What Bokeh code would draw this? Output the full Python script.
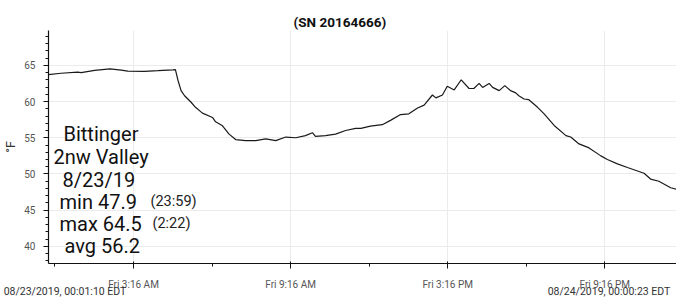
from bokeh.plotting import figure
from bokeh.models import Range1d, FixedTicker, Label, ColumnDataSource, LinearAxis
from bokeh.embed import file_html
from bokeh.resources import INLINE

# ---- data ----
title_text = "(SN 20164666)"
start_stamp = "08/23/2019, 00:01:10 EDT"
end_stamp = "08/24/2019, 00:00:23 EDT"
start_min = 1 + 10 / 60          # 00:01:10
end_min = 24 * 60 + 23 / 60      # 00:00:23 next day

times_min = [1, 30, 68, 76, 107, 142, 168, 183, 221, 252, 286, 292, 298, 305, 313, 328,
             338, 354, 377, 384, 399, 415, 430, 453, 476, 499, 522, 545, 568, 590, 606,
             613, 636, 659, 682, 705, 717, 739, 766, 785, 808, 827, 847, 862, 881, 889,
             904, 915, 931, 947, 965, 976, 988, 996, 1011, 1019, 1034, 1047, 1060,
             1072, 1079, 1091, 1102, 1122, 1137, 1160, 1187, 1198, 1217, 1240, 1267,
             1282, 1305, 1328, 1366, 1381, 1400, 1427, 1440]
temps_f = [63.7, 63.9, 64.05, 64.0, 64.3, 64.5, 64.33, 64.2, 64.15, 64.25, 64.37, 64.4,
           62.9, 61.5, 60.8, 59.9, 59.2, 58.4, 57.8, 57.2, 56.7, 55.5, 54.75, 54.6, 54.6,
           54.85, 54.6, 55.1, 55.0, 55.3, 55.7, 55.2, 55.3, 55.5, 56.0, 56.3, 56.3, 56.6,
           56.8, 57.4, 58.2, 58.3, 59.1, 59.5, 60.9, 60.5, 60.9, 62.1, 61.6, 63.0, 61.8,
           61.8, 62.5, 61.95, 62.5, 61.95, 61.5, 62.2, 61.5, 61.2, 60.8, 60.35, 60.25,
           59.2, 58.3, 56.7, 55.3, 55.1, 54.15, 53.6, 52.5, 52.0, 51.4, 50.9, 50.1,
           49.3, 49.0, 48.1, 47.9]

major_tick_hours = [3 + 16 / 60, 9 + 16 / 60, 15 + 16 / 60, 21 + 16 / 60]
minor_tick_hours = [0 + 16 / 60, 6 + 16 / 60, 12 + 16 / 60, 18 + 16 / 60]
tick_labels = ["Fri 3:16 AM", "Fri 9:16 AM", "Fri 3:16 PM", "Fri 9:16 PM"]
y_major = [40, 45, 50, 55, 60, 65]
y_minor = list(range(38, 70))

station_lines = ["Bittinger", "2nw Valley", "8/23/19", "min 47.9", "max 64.5", "avg 56.2"]
time_notes = ["(23:59)", "(2:22)"]

# ---- figure ----
W, H = 676, 301
FL, FB = 48, 263  # frame left / bottom in canvas px
x0, x1 = start_min / 60, end_min / 60
p = figure(width=W, height=H, output_backend="svg", toolbar_location=None,
           x_range=Range1d(x0, x1), y_range=Range1d(37.65, 69.8),
           min_border_left=FL, min_border_right=0, min_border_top=30,
           min_border_bottom=H - FB, background_fill_color="white",
           border_fill_color="white", outline_line_color=None)

p.title.text = title_text
p.title.align = "left"
p.title.offset = 293 - FL
p.title.text_font = "Roboto"
p.title.text_font_size = "13.5px"
p.title.text_font_style = "bold"
p.title.text_color = "#111111"
p.title.standoff = 2

src = ColumnDataSource(dict(x=[t / 60 for t in times_min], y=temps_f))
p.line("x", "y", source=src, line_color="#1a1a1a", line_width=1.2)

p.xaxis.ticker = FixedTicker(ticks=major_tick_hours, minor_ticks=minor_tick_hours + major_tick_hours)
p.xaxis.major_label_overrides = {t: l for t, l in zip(major_tick_hours, tick_labels)}
p.yaxis.ticker = FixedTicker(ticks=y_major, minor_ticks=y_minor)
p.yaxis.axis_label = "°F"

for ax in (p.xaxis[0], p.yaxis[0]):
    ax.axis_line_color = "#111111"
    ax.axis_line_width = 1.2
    ax.major_tick_line_color = "#111111"
    ax.minor_tick_line_color = "#111111"
    ax.major_label_text_font = "Roboto"
    ax.major_label_text_font_size = "10px"
    ax.major_label_text_color = "#555555"
    ax.major_tick_in = 0
    ax.minor_tick_in = 0

p.xaxis.major_tick_out = 5
p.xaxis.major_tick_in = 2
p.xaxis.minor_tick_out = 3
p.xaxis.major_label_standoff = 10
p.yaxis.major_tick_out = 5
p.yaxis.minor_tick_out = 3
p.yaxis.major_label_standoff = 8
p.yaxis.axis_label_text_font = "Roboto"
p.yaxis.axis_label_text_font_style = "normal"
p.yaxis.axis_label_text_font_size = "12.5px"
p.yaxis.axis_label_text_color = "#333333"
p.yaxis.axis_label_standoff = 3

# second bottom axis carrying the start / end time stamps
px_per_h = (W - FL) / (x1 - x0)
stamp_pos = [x0 + (64.5 - FL) / px_per_h, x0 + (608.5 - FL) / px_per_h]
stamp_axis = LinearAxis(ticker=FixedTicker(ticks=stamp_pos, minor_ticks=[]),
                        major_label_overrides={stamp_pos[0]: start_stamp, stamp_pos[1]: end_stamp},
                        axis_line_color=None, major_tick_line_color=None,
                        minor_tick_line_color=None, major_tick_out=0, major_tick_in=0,
                        major_label_standoff=-8, major_label_text_font="Roboto",
                        major_label_text_font_size="10.5px", major_label_text_color="#333333")
p.add_layout(stamp_axis, "below")

p.xgrid.ticker = FixedTicker(ticks=major_tick_hours)
p.ygrid.ticker = FixedTicker(ticks=y_major)
p.grid.grid_line_color = "#ebebeb"
p.grid.grid_line_width = 1


def lab(text, cx, cy, size, color="#111111"):
    p.add_layout(Label(x=cx - FL, y=FB - cy, x_units="screen", y_units="screen",
                       text=text, text_font="Roboto", text_font_size=size,
                       text_color=color, text_align="left", text_baseline="alphabetic"))


line_x = [63, 53, 62, 59, 59, 64]
line_y = [133, 156, 179, 201, 223, 245]
for t, lx, ly in zip(station_lines, line_x, line_y):
    lab(t, lx, ly, "20px")
lab(time_notes[0], 150, 201, "14.5px", color="#222222")
lab(time_notes[1], 152, 223, "14.5px", color="#222222")

open("out.html", "w").write(file_html(p, INLINE))
